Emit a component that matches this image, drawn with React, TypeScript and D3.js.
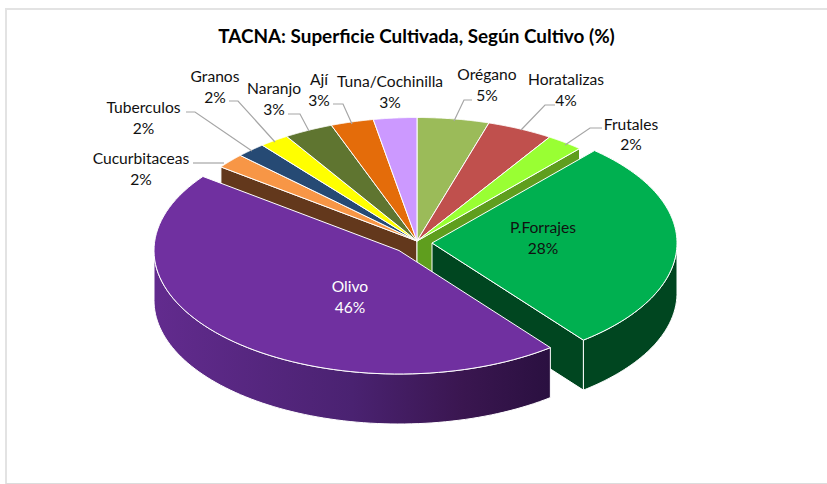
import React from "react";
import * as d3 from "d3";

const categories = ["Orégano","Horatalizas","Frutales","P.Forrajes","Olivo","Cucurbitaceas","Tuberculos","Granos","Naranjo","Ají","Tuna/Cochinilla"];
const values = [4.75,4.36,2.45,27.9,45.9,1.95,1.95,1.95,3.25,2.83,2.86];
const colors = ["#9bbb59","#c0504d","#99ff33","#00b050","#7030a0","#f79646","#264a74","#ffff00","#5f7530","#e46c0a","#cc99ff"];

const W = 827, H = 484;
const rx = 245, ry = 123.5, depth = 50;
const main = {x:417,y:241};
const offs: Record<string,{x:number,y:number}> = {"P.Forrajes":{x:432,y:243},"Olivo":{x:399,y:250.5}};

const labelPos: Record<string,{x:number,y:number,ln:number[][]}> = {
  "Orégano":{x:487,y:80,ln:[[472,100],[464,100],[454,121]]},
  "Horatalizas":{x:566,y:85,ln:[[555,105],[545,105],[521,130]]},
  "Frutales":{x:631,y:129.5,ln:[[602,128],[590,128],[565,145]]},
  "P.Forrajes":{x:543,y:233,ln:[]},
  "Olivo":{x:350,y:292,ln:[]},
  "Cucurbitaceas":{x:141,y:164,ln:[[193,163],[224,163]]},
  "Tuberculos":{x:143.5,y:113,ln:[[186,112],[195,112],[252,151]]},
  "Granos":{x:215,y:82,ln:[[229,101],[238,101],[275,142]]},
  "Naranjo":{x:274,y:94,ln:[[288,114],[300,114],[309,131]]},
  "Ají":{x:319,y:85,ln:[[333,104],[343,104],[352,124]]},
  "Tuna/Cochinilla":{x:390,y:87,ln:[]},
};

const pie = d3.pie<number>().sort(null).value(d=>d).startAngle(0).endAngle(2*Math.PI);
const arcs = pie(values);
const ang = d3.scaleLinear().domain([0,1]);

function pt(c:{x:number,y:number},a:number,dz=0):[number,number]{
  return [c.x+rx*Math.sin(a), c.y-ry*Math.cos(a)+dz];
}
function arcPts(c:{x:number,y:number},a0:number,a1:number,dz=0){
  const s = ang.copy().range([a0,a1]);
  return d3.range(0,1.0001,1/80).map(t=>pt(c,s(t),dz));
}
const line = d3.line();
const sector = (c:any,a0:number,a1:number)=> line([[c.x,c.y],...arcPts(c,a0,a1)])+"Z";
const rim = (c:any,a0:number,a1:number)=> line([...arcPts(c,a0,a1),...arcPts(c,a1,a0,depth)])+"Z";
const cut = (c:any,a:number)=>{const p=pt(c,a);return line([[c.x,c.y],p,[p[0],p[1]+depth],[c.x,c.y+depth]])+"Z";};

export default function App(){
  const idx=(n:string)=>categories.indexOf(n);
  const f=arcs[idx("P.Forrajes")], o=arcs[idx("Olivo")];
  const fr=arcs[idx("Frutales")], cu=arcs[idx("Cucurbitaceas")];
  const stroke={stroke:"#fff",strokeWidth:1,strokeLinejoin:"round" as const};
  return (
    <svg width={W} height={H} style={{position:"absolute",left:0,top:0,fontFamily:"Lato, Carlito, sans-serif"}}>
      <defs>
        <linearGradient id="olw" gradientUnits="userSpaceOnUse" x1={154} x2={550} y1={0} y2={0}>
          <stop offset="0" stopColor="#622b8e"/>
          <stop offset="0.5" stopColor="#4a2271"/>
          <stop offset="0.78" stopColor="#3a1650"/>
          <stop offset="1" stopColor="#2a1040"/>
        </linearGradient>
      </defs>
      <path d="M6 484V9H827" fill="none" stroke="#e3e3e3" strokeWidth={2}/>
      <path d="M6 483.5H827" fill="none" stroke="#dcdcdc" strokeWidth={1}/>
      <text x={416.5} y={43} textAnchor="middle" fontWeight={700} fontSize={18.9} fill="#000">TACNA: Superficie Cultivada, Según Cultivo (%)</text>
      <path d={cut(main,cu.startAngle)} fill="#63381c" {...stroke}/>
      <path d={cut(main,fr.endAngle)} fill="#5f9e1e" {...stroke}/>
      {arcs.map((a,i)=> (categories[i]==="P.Forrajes"||categories[i]==="Olivo")?null:
        <path key={i} d={sector(main,a.startAngle,a.endAngle)} fill={colors[i]} {...stroke}/>)}
      <path d={rim(offs["P.Forrajes"],Math.PI/2,f.endAngle)} fill="#004620" {...stroke}/>
      <path d={cut(offs["P.Forrajes"],f.endAngle)} fill="#004620" {...stroke}/>
      <path d={sector(offs["P.Forrajes"],f.startAngle,f.endAngle)} fill={colors[idx("P.Forrajes")]} {...stroke}/>
      <path d={rim(offs["Olivo"],o.startAngle,1.5*Math.PI)} fill="url(#olw)" {...stroke}/>
      <path d={sector(offs["Olivo"],o.startAngle,o.endAngle)} fill={colors[idx("Olivo")]} {...stroke}/>
      {categories.map((c,i)=>{
        const l=labelPos[c]; const pct=d3.format(".0f")(values[i])+"%";
        const fill=c==="Olivo"?"#fff":"#111";
        return <g key={c}>
          {l.ln.length>0 && <path d={line(l.ln as [number,number][])!} fill="none" stroke="#a6a6a6" strokeWidth={1.2}/>}
          <text x={l.x} y={l.y} textAnchor="middle" fontSize={15.6} fill={fill}>
            <tspan x={l.x}>{c}</tspan>
            <tspan x={l.x} dy={20.5}>{pct}</tspan>
          </text>
        </g>;
      })}
    </svg>
  );
}
